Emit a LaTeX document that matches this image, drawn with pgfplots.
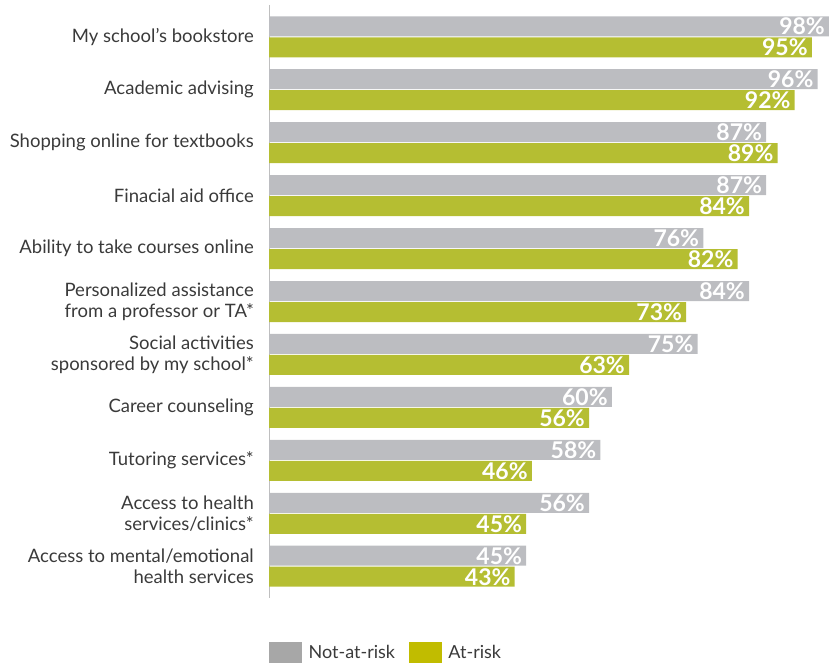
\documentclass[border=0pt]{standalone}
\usepackage{pgfplots}
\usepackage{pgfplotstable}
\pgfplotsset{compat=1.18}
\usepackage{fontspec}
\setmainfont{Lato}
\definecolor{barg}{HTML}{BCBDC1}
\definecolor{bary}{HTML}{B5BE32}
\definecolor{legg}{HTML}{A7A7A7}
\definecolor{legy}{HTML}{C1BC00}
\definecolor{txt}{HTML}{3A3A3A}
\pgfplotstableread{
idx notrisk atrisk
0 98 95
1 96 92
2 87 89
3 87 84
4 76 82
5 84 73
6 75 63
7 60 56
8 58 46
9 56 45
10 45 43
}\data
\begin{document}
\begin{tikzpicture}
\begin{axis}[
 at={(269pt,65pt)}, anchor=south west,
 scale only axis, width=560pt, height=593pt,
 xmin=0, xmax=98, ymin=-0.6, ymax=10.6, y dir=reverse,
 xbar, bar width=20pt,
 axis x line=none, axis y line*=left,
 axis line style={draw=black!25, line width=1pt},
 ytick={0,...,10}, major tick length=0pt,
 yticklabels={{My school’s bookstore},{Academic advising},{Shopping online for textbooks},{Finacial aid office},{Ability to take courses online},{Personalized assistance\\from a professor or TA*},{Social activities\\sponsored by my school*},{Career counseling},{Tutoring services*},{Access to health\\services/clinics*},{Access to mental/emotional\\health services}},
 yticklabel style={font=\fontsize{18.5}{21}\selectfont, text=txt, align=right, anchor=east, inner sep=0pt, xshift=-15pt},
 /pgf/number format/assume math mode=true,
 nodes near coords={\pgfmathprintnumber{\pgfplotspointmeta}\%},
 every node near coord/.append style={anchor=east, text=white, font=\bfseries\fontsize{23}{23}\selectfont, inner sep=0pt, xshift=-4pt},
 clip=false,
 legend style={at={(0,0)}, anchor=west, yshift=-55pt, draw=none, fill=none, legend columns=2, font=\fontsize{18}{20}\selectfont, text=txt, inner sep=0pt, /tikz/every odd column/.append style={column sep=5pt}, /tikz/every even column/.append style={column sep=12pt}},
]
\addplot[forget plot, fill=barg, draw=none, bar shift=10.5pt] table[x=notrisk, y=idx]{\data};
\addplot[forget plot, fill=bary, draw=none, bar shift=-10.5pt] table[x=atrisk, y=idx]{\data};
\addlegendimage{legend image code/.code={\fill[legg] (0pt,-11pt) rectangle (32pt,11pt);}}
\addlegendentry{Not-at-risk}
\addlegendimage{legend image code/.code={\fill[legy] (0pt,-11pt) rectangle (32pt,11pt);}}
\addlegendentry{At-risk}
\end{axis}
\pgfresetboundingbox
\path[use as bounding box] (0,0) rectangle (829pt,663pt);
\end{tikzpicture}
\end{document}
